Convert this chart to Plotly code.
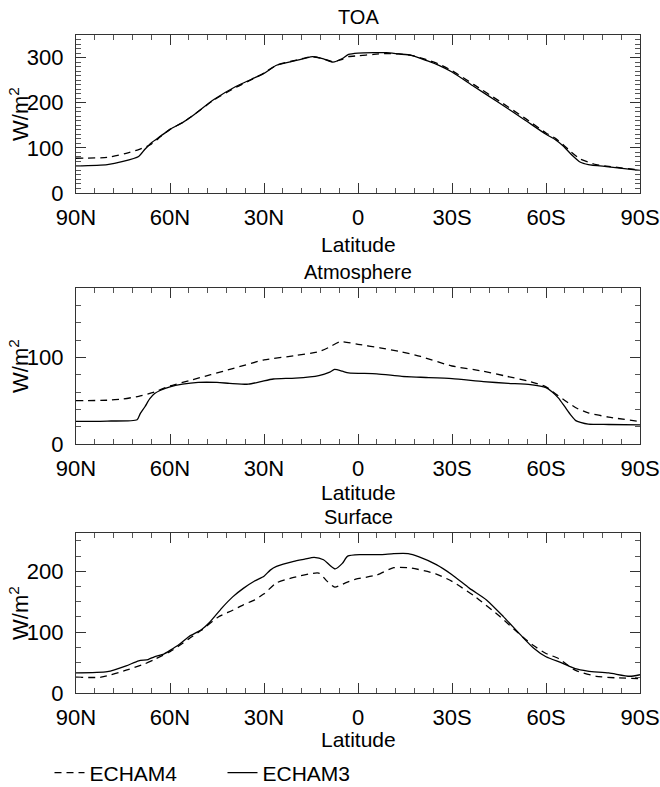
import plotly.graph_objects as go

# ---------------- data (latitude: +N, -S) ----------------
toa_e3_lat = [90, 80, 75, 70, 68, 66, 63, 60, 56, 53, 46, 39, 34, 30, 26, 20, 17, 14.5, 11, 8, 5, 3, 0, -5, -9, -13, -17, -22, -26, -30, -37, -45, -53, -60, -63, -65.5, -68, -71, -73.5, -80, -90]
toa_e3_val = [60, 63, 70, 81, 97, 111, 126, 141, 156, 170, 207, 236, 252, 265, 283, 293, 298, 302, 297, 290, 298, 307, 310, 311, 311, 308, 305, 293, 282, 268, 236, 200, 163, 130, 118, 104, 86, 68, 63, 58, 50]
toa_e4_lat = [90, 80, 74, 70, 66, 63, 60, 56, 53, 46, 39, 34, 30, 26, 20, 17, 14.5, 11, 8, 5, 3, 0, -5, -9, -13, -17, -22, -26, -30, -37, -45, -53, -60, -63, -65.5, -68, -71, -76, -80, -90]
toa_e4_val = [77, 79, 88, 96, 108, 125, 141, 156, 170, 206, 234, 251, 266, 283, 294, 299, 302, 297, 291, 296, 302, 304, 307, 309, 308, 305, 295, 285, 271, 240, 204, 167, 133, 121, 107, 91, 75, 63, 59, 51]

atm_e3_lat = [90, 80, 70.5, 69.5, 68, 66.5, 65, 63, 60, 56, 51, 45, 41, 35, 31, 27, 20, 12.5, 9, 7.5, 5, 3, -6, -14, -20, -30, -40, -48, -55, -60, -62, -64, -66, -68, -69.5, -71, -73.5, -80, -90]
atm_e3_val = [26, 26.5, 28, 35, 43, 52, 58, 62, 66, 69, 71, 71, 70, 69, 72, 75, 76, 79, 83, 86, 84, 82, 81, 78, 77, 75.5, 72, 70, 68.5, 65, 60, 53, 43, 33, 27, 25, 23, 22.5, 22]
atm_e4_lat = [90, 80, 75, 70, 65, 60, 54, 47, 40, 30, 20, 12.5, 9, 5.7, 0, -7, -13, -20, -30, -40, -47, -55, -60, -63, -66.5, -70, -73.5, -80, -90]
atm_e4_val = [50, 50.5, 52, 55, 60, 67, 73, 80, 87, 97, 102, 106.5, 112, 118, 115, 111, 107, 101, 90, 84, 78.5, 72, 66, 58, 49, 41, 36, 31, 26]

sfc_e3_lat = [90, 80, 74, 70, 67, 65, 62, 60, 57, 54, 50, 47.4, 43.4, 40, 36.6, 33, 30, 28, 26, 20.5, 17, 14, 11, 9, 7.3, 5, 3.3, -1, -7.4, -11.4, -16, -19.5, -25, -30, -35.6, -41, -46.4, -52.4, -56, -60, -65, -69.3, -73.3, -80, -86.7, -90]
sfc_e3_val = [33, 35, 44.6, 53, 55, 59.5, 64, 70, 80, 92.6, 104, 116, 140, 158, 172, 184, 192, 202, 208, 216.5, 220, 223, 219, 210, 204, 213, 225, 227.5, 227.5, 229, 229, 223.7, 211, 194.5, 172, 153, 125.6, 92.6, 74, 59.5, 49.6, 40, 36, 33, 27.5, 30]
sfc_e4_lat = [90, 82, 74, 68, 65, 60, 57, 54, 50, 44.7, 40, 36.6, 33, 30, 26, 20.5, 12.5, 9.8, 7.4, 4, 0.7, -6, -11.4, -16.8, -24.8, -30, -37.3, -45.3, -52.7, -56, -60, -64, -69.3, -76, -82, -90]
sfc_e4_val = [26, 26, 37.5, 48, 55, 68, 78, 89, 103, 124.5, 136, 145, 153, 163, 181, 190, 197, 183.5, 174, 181, 187, 194, 206, 205.5, 196, 183.5, 158.7, 125.6, 91.5, 78, 65, 56.7, 37.5, 27.5, 25, 23.7]

tick_vals = [90, 60, 30, 0, -30, -60, -90]
tick_text = ["90N", "60N", "30N", "0", "30S", "60S", "90S"]

panel_titles = ["TOA", "Atmosphere", "Surface"]
y_ranges = [[0, 350], [0, 180], [0, 263]]
y_major = [100, 100, 100]
y_minor = [10, 20, 25]

# ---------------- layout geometry ----------------
W, H = 660, 787
FONT = "Liberation Sans, Arial, Helvetica, sans-serif"
x_dom = [76 / W, 640 / W]
panels_px = [(35, 193), (288, 444), (533, 693)]   # top, bottom in px
title_px = [17, 272, 517]
xlabel_px = [244, 492, 739]


def py(p):
    return 1 - p / H


fig = go.Figure()
series = [
    (toa_e4_lat, toa_e4_val, toa_e3_lat, toa_e3_val),
    (atm_e4_lat, atm_e4_val, atm_e3_lat, atm_e3_val),
    (sfc_e4_lat, sfc_e4_val, sfc_e3_lat, sfc_e3_val),
]

for i, (l4, v4, l3, v3) in enumerate(series):
    sfx = "" if i == 0 else str(i + 1)
    fig.add_trace(go.Scatter(x=l4, y=v4, mode="lines", name="ECHAM4",
                             line=dict(color="black", width=1.3, dash="7px,5px", shape="spline", smoothing=0.6),
                             xaxis="x" + sfx, yaxis="y" + sfx,
                             showlegend=(i == 0), legendrank=1))
    fig.add_trace(go.Scatter(x=l3, y=v3, mode="lines", name="ECHAM3",
                             line=dict(color="black", width=1.3, shape="spline", smoothing=0.6),
                             xaxis="x" + sfx, yaxis="y" + sfx,
                             showlegend=(i == 0), legendrank=2))

layout = dict(
    width=W, height=H,
    margin=dict(l=0, r=0, t=0, b=0, autoexpand=False),
    paper_bgcolor="white", plot_bgcolor="white",
    font=dict(family=FONT, size=21, color="black"),
    showlegend=True,
    legend=dict(orientation="h", x=0.075, y=py(773), xanchor="left", yanchor="middle",
                font=dict(size=21), entrywidth=128, traceorder="normal",
                bgcolor="rgba(0,0,0,0)"),
)

annotations = []
for i in range(3):
    sfx = "" if i == 0 else str(i + 1)
    top, bot = panels_px[i]
    layout["xaxis" + sfx] = dict(
        domain=x_dom, anchor="y" + sfx, range=[90, -90], automargin=False,
        tickmode="array", tickvals=tick_vals, ticktext=tick_text,
        ticks="inside", ticklen=10, tickwidth=1, tickcolor="#333",
        showline=True, linecolor="#333", linewidth=1.2, mirror="ticks",
        showgrid=False, zeroline=False, ticklabelstandoff=4,
        minor=dict(ticks="inside", ticklen=5, dtick=6, tick0=0, tickcolor="#555", showgrid=False),
        tickfont=dict(size=22),
    )
    layout["yaxis" + sfx] = dict(
        domain=[py(bot), py(top)], anchor="x" + sfx, range=y_ranges[i], automargin=False,
        dtick=y_major[i], tick0=0,
        ticks="inside", ticklen=10, tickwidth=1, tickcolor="#333",
        showline=True, linecolor="#333", linewidth=1.2, mirror="ticks",
        showgrid=False, zeroline=False, ticklabelstandoff=7,
        minor=dict(ticks="inside", ticklen=5, dtick=y_minor[i], tick0=0, tickcolor="#555", showgrid=False),
        tickfont=dict(size=22),
    )
    annotations.append(dict(text=panel_titles[i], x=358 / W, y=py(title_px[i]), xref="paper", yref="paper",
                            showarrow=False, xanchor="center", yanchor="middle", font=dict(size=20)))
    annotations.append(dict(text="Latitude", x=358 / W, y=py(xlabel_px[i]), xref="paper", yref="paper",
                            showarrow=False, xanchor="center", yanchor="middle", font=dict(size=21)))
    annotations.append(dict(text="W/m<sup>2</sup>", x=19 / W, y=py((top + bot) / 2), xref="paper", yref="paper",
                            showarrow=False, xanchor="center", yanchor="middle", textangle=-90,
                            font=dict(size=22)))

layout["annotations"] = annotations
fig.update_layout(**layout)

fig.write_html("out.html")
